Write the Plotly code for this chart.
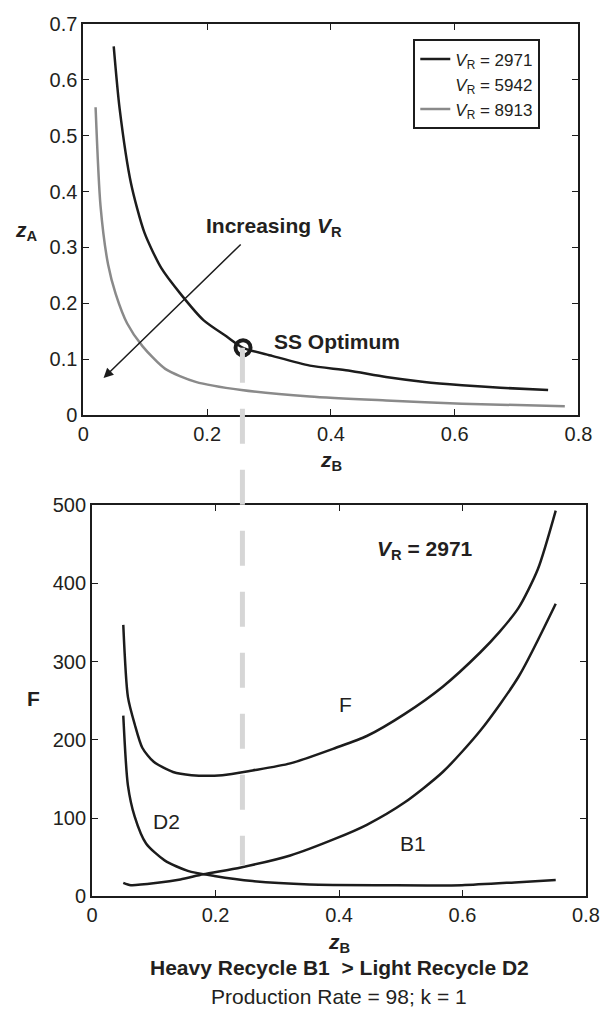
import plotly.graph_objects as go

# ---------------- data ----------------
# Top panel: zA vs zB for different reactor volumes
zb_vr2971 = [0.049, 0.0585, 0.0769, 0.0985, 0.126, 0.157, 0.194, 0.231, 0.258, 0.305, 0.366,
             0.428, 0.489, 0.551, 0.612, 0.674, 0.751]
za_vr2971 = [0.660, 0.549, 0.415, 0.327, 0.263, 0.217, 0.170, 0.141, 0.1205, 0.106, 0.0885,
             0.0798, 0.0681, 0.0594, 0.0536, 0.0489, 0.0448]
zb_vr8913 = [0.0197, 0.0277, 0.040, 0.0523, 0.0708, 0.0954, 0.1323, 0.1815, 0.2554, 0.366,
             0.489, 0.612, 0.778]
za_vr8913 = [0.551, 0.374, 0.269, 0.2166, 0.164, 0.1235, 0.0827, 0.0594, 0.0448, 0.0332,
             0.0262, 0.0204, 0.0157]
zb_vr5942 = [None]
za_vr5942 = [None]
legend_names = ["<i>V</i><sub>R</sub> = 2971", "<i>V</i><sub>R</sub> = 5942", "<i>V</i><sub>R</sub> = 8913"]

# SS optimum
opt_zb, opt_za = 0.258, 0.1205

# Bottom panel: flows vs zB for VR = 2971
zb_F = [0.0505, 0.058, 0.069, 0.0813, 0.0998, 0.131, 0.161, 0.211, 0.26, 0.321, 0.395, 0.445,
        0.506, 0.568, 0.629, 0.66, 0.691, 0.722, 0.751]
F_total = [347, 255, 220, 190, 172, 159, 155, 155, 161, 170, 190, 205, 233, 268, 312, 338, 369,
           418, 493]
zb_B1 = [0.0505, 0.0628, 0.106, 0.143, 0.18, 0.241, 0.321, 0.395, 0.445, 0.506, 0.568, 0.629,
         0.691, 0.751]
F_B1 = [17.4, 14.4, 17.4, 21.8, 28.4, 37.1, 52.4, 74.2, 91.6, 120, 159, 212, 281, 374]
zb_D2 = [0.0505, 0.058, 0.069, 0.0874, 0.118, 0.155, 0.198, 0.26, 0.352, 0.475, 0.599, 0.691, 0.751]
F_D2 = [231, 142, 102, 67.7, 45.8, 32.7, 26.2, 19.6, 15.3, 14.4, 14.4, 18.3, 21]

# ---------------- styling ----------------
FONT = "Liberation Sans, Arial, sans-serif"
TXT = "#231f20"
BLACK = "#1c1c1c"
GRAY = "#8a8a8a"

W, H = 614, 1019
top_x = [80 / W, 591.7 / W]
top_y = [1 - 413 / H, 1 - 13.3 / H]
bot_x = [89 / W, 599.5 / W]
bot_y = [1 - 905 / H, 1 - 505 / H]

LINE = dict(width=2.5, shape="spline", smoothing=0.7)

fig = go.Figure()

fig.add_trace(go.Scatter(x=zb_vr2971, y=za_vr2971, mode="lines", name=legend_names[0],
                         line=dict(color=BLACK, **LINE), xaxis="x", yaxis="y"))
fig.add_trace(go.Scatter(x=zb_vr5942, y=za_vr5942, mode="lines", name=legend_names[1],
                         line=dict(color="rgba(0,0,0,0)", width=2.5), xaxis="x", yaxis="y"))
fig.add_trace(go.Scatter(x=zb_vr8913, y=za_vr8913, mode="lines", name=legend_names[2],
                         line=dict(color=GRAY, **LINE), xaxis="x", yaxis="y"))
fig.add_trace(go.Scatter(x=[opt_zb], y=[opt_za], mode="markers", showlegend=False,
                         marker=dict(symbol="circle-open", size=15, color=BLACK,
                                     line=dict(width=4, color=BLACK)), xaxis="x", yaxis="y"))

for xs, ys in [(zb_F, F_total), (zb_B1, F_B1), (zb_D2, F_D2)]:
    fig.add_trace(go.Scatter(x=xs, y=ys, mode="lines", showlegend=False,
                             line=dict(color=BLACK, **LINE), xaxis="x2", yaxis="y2"))

axis_common = dict(showline=True, linecolor=BLACK, linewidth=2, mirror="ticks", ticks="inside",
                   ticklen=6, tickwidth=1.2, tickcolor=BLACK, showgrid=False, zeroline=False,
                   tickfont=dict(family=FONT, size=20, color=TXT))

fig.update_layout(
    width=W, height=H, margin=dict(l=0, r=0, t=0, b=0),
    paper_bgcolor="white", plot_bgcolor="white",
    font=dict(family=FONT, color=TXT),
    xaxis=dict(domain=top_x, range=[0, 0.8], dtick=0.2, anchor="y", **axis_common),
    yaxis=dict(domain=top_y, range=[0, 0.7], dtick=0.1, anchor="x", **axis_common),
    xaxis2=dict(domain=bot_x, range=[0, 0.8], dtick=0.2, anchor="y2", **axis_common),
    yaxis2=dict(domain=bot_y, range=[0, 500], dtick=100, anchor="x2", **axis_common),
    legend=dict(x=421 / W, y=1 - 29 / H, xanchor="left", yanchor="top",
                bordercolor=BLACK, borderwidth=2, bgcolor="white",
                font=dict(family=FONT, size=17, color=TXT), tracegroupgap=0,
                itemwidth=30),
    showlegend=True,
)

def ann(text, x, y, xref="paper", yref="paper", size=21, xanchor="center", yanchor="middle"):
    fig.add_annotation(text=text, x=x, y=y, xref=xref, yref=yref, showarrow=False,
                       xanchor=xanchor, yanchor=yanchor,
                       font=dict(family=FONT, size=size, color=TXT))

# axis titles
ann("<b><i>z</i><sub>A</sub></b>", 21 / W, 1 - 225 / H)
ann("<b><i>z</i><sub>B</sub></b>", (top_x[0] + top_x[1]) / 2, 1 - 460 / H)
ann("<b>F</b>", 28 / W, 1 - 703 / H)
ann("<b><i>z</i><sub>B</sub></b>", (bot_x[0] + bot_x[1]) / 2, 1 - 953 / H)
ann("<b>Heavy Recycle B1  &gt; Light Recycle D2</b>", (bot_x[0] + bot_x[1]) / 2, 1 - 978 / H)
ann("Production Rate = 98; k = 1", (bot_x[0] + bot_x[1]) / 2, 1 - 1007 / H)

# top panel annotations
ann("<b>Increasing <i>V</i><sub>R</sub></b>", 0.3077, 0.336, xref="x", yref="y")
ann("<b>SS Optimum</b>", 0.305, 0.131, xref="x", yref="y", xanchor="left")
fig.add_annotation(x=0.0326, y=0.0664, ax=0.2566, ay=0.308, xref="x", yref="y",
                   axref="x", ayref="y", text="", showarrow=True, arrowhead=2,
                   arrowsize=1.3, arrowwidth=1.5, arrowcolor=BLACK)

# bottom panel annotations
ann("<b><i>V</i><sub>R</sub> = 2971</b>", 0.54, 443, xref="x2", yref="y2")
ann("F", 0.41, 245, xref="x2", yref="y2")
ann("D2", 0.121, 96, xref="x2", yref="y2")
ann("B1", 0.519, 68, xref="x2", yref="y2")

# dashed connector from SS optimum down into the bottom panel
F_end = 40
y_start = top_y[0] + opt_za / 0.7 * (top_y[1] - top_y[0])
y_end = bot_y[0] + F_end / 500 * (bot_y[1] - bot_y[0])
fig.add_shape(type="line", xref="x", yref="paper", x0=0.257, x1=0.257, y0=y_start, y1=y_end,
              line=dict(color="#d6d6d6", width=5, dash="35px,26px"), layer="above")

fig.write_html("out.html")
